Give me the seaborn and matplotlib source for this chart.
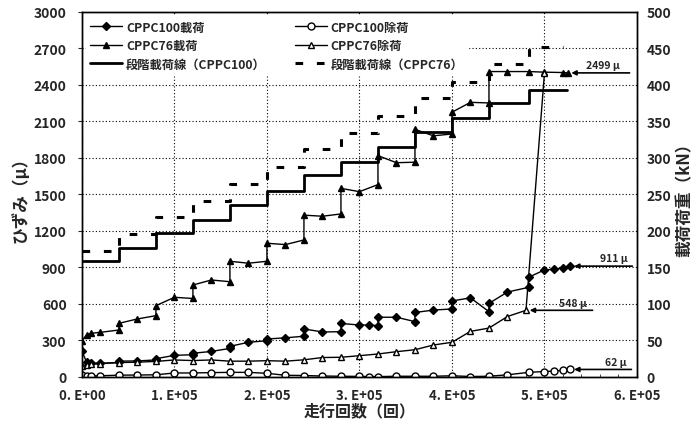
import numpy as np
import pandas as pd
import matplotlib
matplotlib.use("Agg")
import matplotlib.pyplot as plt
import seaborn as sns

# ---------------------------------------------------
# data
# ---------------------------------------------------
# CPPC100 loading (filled diamonds)
c100_load_x = [0, 5000, 10000, 20000, 40000, 40000, 60000, 80000, 80000, 100000,
               120000, 120000, 140000, 160000, 160000, 180000, 200000, 200000, 220000, 240000,
               240000, 260000, 280000, 280000, 300000, 310000, 320000, 320000, 340000, 360000,
               360000, 380000, 400000, 400000, 420000, 440000, 440000, 460000, 483000, 483000,
               500000, 510000, 520000, 528000]
c100_load_y = [210, 125, 115, 112, 120, 130, 132, 140, 150, 178,
               183, 195, 210, 235, 252, 285, 298, 312, 322, 335,
               395, 370, 372, 440, 427, 427, 422, 491, 491, 455,
               530, 550, 559, 625, 650, 537, 605, 698, 737, 820,
               880, 885, 898, 911]

# CPPC100 unloading (open circles)
c100_unload_x = [0, 5000, 10000, 20000, 40000, 60000, 80000, 100000, 120000, 140000,
                 160000, 180000, 200000, 220000, 240000, 260000, 280000, 300000, 310000, 320000,
                 340000, 360000, 380000, 400000, 420000, 440000, 460000, 483000, 500000, 510000,
                 520000, 528000]
c100_unload_y = [15, 10, 8, 10, 15, 16, 18, 33, 33, 36,
                 38, 38, 30, 14, 12, 8, 6, 5, 3, 3,
                 6, 6, 6, 10, 4, 6, 18, 38, 45, 48,
                 55, 62]

# CPPC76 loading (filled triangles)
c76_load_x = [0, 5000, 10000, 20000, 40000, 40000, 60000, 80000, 80000, 100000,
              120000, 120000, 140000, 160000, 160000, 180000, 200000, 200000, 220000, 240000,
              240000, 260000, 280000, 280000, 300000, 320000, 320000, 340000, 360000, 360000,
              380000, 400000, 400000, 420000, 440000, 440000, 460000, 483000, 500000, 520000,
              525000]
c76_load_y = [298, 345, 359, 367, 386, 441, 477, 504, 586, 655,
              645, 756, 797, 783, 951, 935, 951, 1099, 1088, 1126,
              1330, 1321, 1340, 1550, 1523, 1581, 1819, 1761, 1765, 2035,
              1982, 1997, 2176, 2257, 2252, 2510, 2510, 2510, 2505, 2502,
              2499]

# CPPC76 unloading (open triangles)
c76_unload_x = [0, 5000, 10000, 20000, 40000, 60000, 80000, 100000, 120000, 140000,
                160000, 180000, 200000, 220000, 240000, 260000, 280000, 300000, 320000, 340000,
                360000, 380000, 400000, 420000, 440000, 460000, 480000, 500000]
c76_unload_y = [90, 100, 105, 110, 118, 122, 128, 140, 135, 140,
                130, 130, 134, 130, 141, 160, 162, 175, 189, 208,
                224, 263, 285, 375, 402, 497, 548, 2499]

# stepwise load lines (kN, right axis)
step100_x = [0, 40000, 80000, 120000, 160000, 200000, 240000, 280000, 320000, 360000,
             400000, 440000, 483000, 524000]
step100_kn = [158.5, 177, 197, 215.5, 236, 255, 276, 294, 315, 335,
              355, 375, 393, 393]
step76_x = [0, 40000, 80000, 120000, 160000, 200000, 240000, 280000, 320000, 360000,
            400000, 440000, 483000, 520000]
step76_kn = [172, 196, 219, 241, 264, 287, 312, 334, 357, 382,
             404, 429, 452, 452]

x_ticks = [0, 100000, 200000, 300000, 400000, 500000, 600000]
x_tick_labels = ["0. E+00", "1. E+05", "2. E+05", "3. E+05", "4. E+05", "5. E+05", "6. E+05"]
y_ticks = [0, 300, 600, 900, 1200, 1500, 1800, 2100, 2400, 2700, 3000]
y2_ticks = [0, 50, 100, 150, 200, 250, 300, 350, 400, 450, 500]

# ---------------------------------------------------
# style
# ---------------------------------------------------
sns.set_theme(style="white")
plt.rcParams["font.family"] = ["Noto Sans CJK JP", "DejaVu Sans"]
plt.rcParams["font.weight"] = "bold"
plt.rcParams["axes.labelweight"] = "bold"

fig, ax = plt.subplots(figsize=(7, 4.31), dpi=100)
fig.subplots_adjust(left=0.117, right=0.910, bottom=0.123, top=0.970)
ax2 = ax.twinx()

line_kw = dict(estimator=None, sort=False, color="black", linewidth=1.0,
               markeredgewidth=1.0, markeredgecolor="black")

sns.lineplot(x=c100_load_x, y=c100_load_y, ax=ax, marker="D", markersize=4,
             markerfacecolor="black", label="CPPC100載荷", legend=False, **line_kw)
sns.lineplot(x=c100_unload_x, y=c100_unload_y, ax=ax, marker="o", markersize=5,
             markerfacecolor="white", label="CPPC100除荷", legend=False, **line_kw)
sns.lineplot(x=c76_load_x, y=c76_load_y, ax=ax, marker="^", markersize=5,
             markerfacecolor="black", label="CPPC76載荷", legend=False, **line_kw)
sns.lineplot(x=c76_unload_x, y=c76_unload_y, ax=ax, marker="^", markersize=5,
             markerfacecolor="white", label="CPPC76除荷", legend=False, **line_kw)

sns.lineplot(x=step100_x, y=step100_kn, ax=ax2, estimator=None, sort=False,
             drawstyle="steps-post", color="black", linewidth=2.0,
             label="段階載荷線（CPPC100）", legend=False)
sns.lineplot(x=step76_x, y=step76_kn, ax=ax2, estimator=None, sort=False,
             drawstyle="steps-post", color="black", linewidth=2.2,
             linestyle=(0, (2.5, 4.5)), label="段階載荷線（CPPC76）", legend=False)

# axes
ax.set_xlim(0, 600000)
ax.set_ylim(0, 3000)
ax2.set_ylim(0, 500)
ax.set_xticks(x_ticks)
ax.set_xticklabels(x_tick_labels)
ax.set_xticks(np.arange(0, 600001, 20000), minor=True)
ax.set_yticks(y_ticks)
ax2.set_yticks(y2_ticks)

ax.grid(True, which="major", color="black", linestyle=(0, (1, 2)), linewidth=0.8)
ax2.grid(False)
ax.set_axisbelow(True)

ax.tick_params(axis="y", which="major", direction="out", length=3, width=0.8,
               pad=8, labelsize=10, left=True)
ax.tick_params(axis="x", which="major", direction="in", length=3, width=0.8,
               pad=8, labelsize=9.5, bottom=True)
ax.tick_params(axis="x", which="minor", direction="in", length=2.5, width=0.6, bottom=True)
ax2.tick_params(axis="y", direction="in", length=0, pad=7, labelsize=10)

for sp in list(ax.spines.values()) + list(ax2.spines.values()):
    sp.set_color("black")
    sp.set_linewidth(1.0)

ax.set_xlabel("走行回数（回）", fontsize=11.5, fontweight="bold", labelpad=0)
ax.set_ylabel("ひずみ（μ）", fontsize=12, fontweight="bold", labelpad=3)
ax2.set_ylabel("載荷荷重（kN）", fontsize=12, fontweight="bold", labelpad=3)

# end-value arrows
arrow_kw = dict(arrowstyle="-|>", color="black", lw=1.2, mutation_scale=7,
                shrinkA=0, shrinkB=0)
ends = [
    (c76_load_x[-1], c76_load_y[-1], 592000, 581000, "2499 μ"),
    (c100_load_x[-1], c100_load_y[-1], 595000, 590000, "911 μ"),
    (c76_unload_x[-2], c76_unload_y[-2], 552000, 546000, "548 μ"),
    (c100_unload_x[-1], c100_unload_y[-1], 594000, 589000, "62 μ"),
]
for px, py, x_end, x_txt, txt in ends:
    ax.annotate("", xy=(px + 4000, py), xytext=(x_end, py), arrowprops=arrow_kw)
    ax.annotate(txt, xy=(x_txt, py), xytext=(0, 2), textcoords="offset points",
                ha="right", va="bottom", fontsize=7.5, fontweight="bold")

# legend (row order like the original)
h1, l1 = ax.get_legend_handles_labels()
h2, l2 = ax2.get_legend_handles_labels()
handles = [h1[0], h1[2], h2[0], h1[1], h1[3], h2[1]]
labels = [l1[0], l1[2], l2[0], l1[1], l1[3], l2[1]]
leg = ax2.legend(handles, labels, loc="upper left", ncol=2, fontsize=8.8,
                 frameon=True, facecolor="white", edgecolor="white", framealpha=1,
                 handlelength=2.6, handletextpad=0.3, columnspacing=2.4,
                 borderaxespad=0.3, labelspacing=0.45)
for t in leg.get_texts():
    t.set_fontweight("bold")

plt.savefig("out.png", dpi=100)
plt.close()
